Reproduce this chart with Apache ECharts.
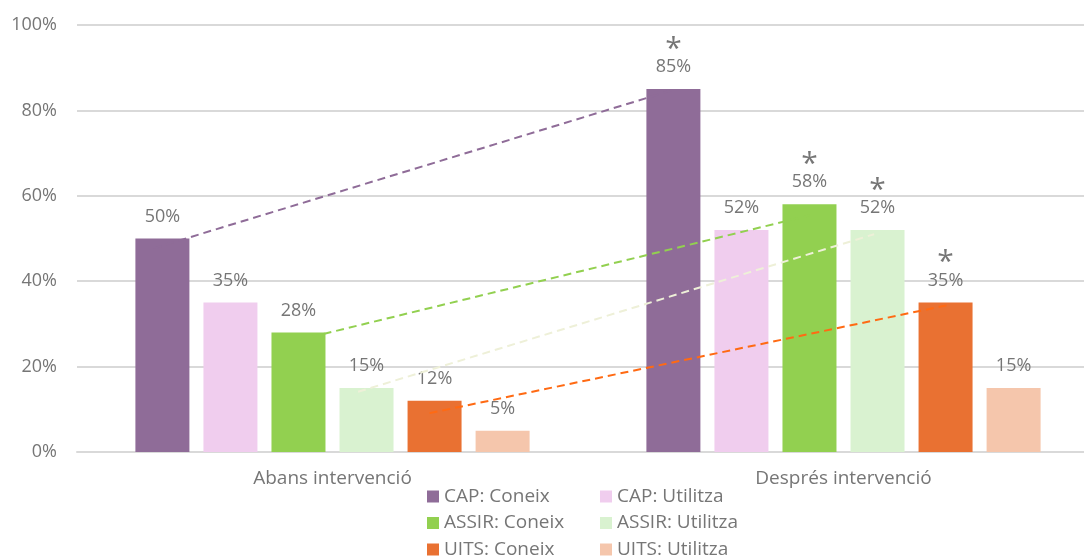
<!DOCTYPE html>
<html>
<head>
<meta charset="utf-8">
<script src="https://cdn.jsdelivr.net/npm/echarts@6/dist/echarts.min.js"></script>
<style>
  html, body { margin: 0; padding: 0; background: #fff; }
  #chart { width: 1084px; height: 558px; }
</style>
</head>
<body>
<div id="chart"></div>
<script>
// dades
var categories = ['Abans intervenció', 'Després intervenció'];
var seriesNames = ['CAP: Coneix', 'CAP: Utilitza', 'ASSIR: Coneix', 'ASSIR: Utilitza', 'UITS: Coneix', 'UITS: Utilitza'];
var capConeix = [50, 85];
var capUtilitza = [35, 52];
var assirConeix = [28, 58];
var assirUtilitza = [15, 52];
var uitsConeix = [12, 35];
var uitsUtilitza = [5, 15];
// asterisc (diferència significativa) per a cada sèrie i categoria
var significant = [
  [false, true],
  [false, false],
  [false, true],
  [false, true],
  [false, true],
  [false, false]
];
// línies de tendència discontínues: [posició x, valor]
var trendCap = [[0.15, 47.7], [1.167, 84.8]];
var trendAssir = [[0.433, 26.2], [1.433, 55.4]];
var trendAssirUt = [[0.55, 14.1], [1.56, 51.0]];
var trendUits = [[0.69, 9.1], [1.704, 34.4]];

var barColors = ['#8F6C98', '#F0CDEE', '#92D050', '#D9F2D0', '#E97132', '#F5C6AC'];
var values = [capConeix, capUtilitza, assirConeix, assirUtilitza, uitsConeix, uitsUtilitza];
var gray = '#767676';

var myChart = echarts.init(document.getElementById('chart'));

var barSeries = seriesNames.map(function (name, i) {
  return {
    name: name,
    type: 'bar',
    barWidth: 54,
    barGap: '26%',
    itemStyle: { color: barColors[i] },
    label: {
      show: true,
      position: 'top',
      distance: 12,
      formatter: function (p) {
        var txt = '{v|' + p.value + '%}';
        return significant[i][p.dataIndex] ? '{s|*}\n' + txt : txt;
      },
      rich: {
        v: { fontSize: 18, color: gray, fontFamily: 'Open Sans', lineHeight: 20 },
        s: { fontSize: 30, color: gray, fontFamily: 'Open Sans', lineHeight: 22, padding: [0, 0, -6, 0] }
      }
    },
    data: values[i]
  };
});

function trend(data, color) {
  return {
    type: 'line',
    xAxisIndex: 1,
    data: data,
    symbol: 'none',
    silent: true,
    z: 5,
    lineStyle: { color: color, width: 2, type: [8, 5] }
  };
}

function legendCol(names, left) {
  return {
    data: names,
    orient: 'vertical',
    left: left,
    top: 482,
    height: 120,
    itemWidth: 12,
    itemHeight: 12,
    itemGap: 7.5,
    icon: 'rect',
    textStyle: { fontSize: 19, color: gray, fontFamily: 'Open Sans' }
  };
}

var option = {
  animation: false,
  textStyle: { fontFamily: 'Open Sans' },
  grid: { left: 77, width: 1022, top: 25, bottom: 106, outerBoundsMode: 'none' },
  legend: [
    legendCol([seriesNames[0], seriesNames[2], seriesNames[4]], 422),
    legendCol([seriesNames[1], seriesNames[3], seriesNames[5]], 595)
  ],
  xAxis: [
    {
      type: 'category',
      data: categories,
      axisTick: { show: false },
      axisLine: { lineStyle: { color: '#D9D9D9', width: 2 } },
      axisLabel: { fontSize: 19, color: gray, margin: 17 }
    },
    { type: 'value', min: 0, max: 2, show: false }
  ],
  yAxis: {
    type: 'value',
    min: 0,
    max: 100,
    interval: 20,
    axisLine: { show: false },
    axisTick: { show: false },
    axisLabel: { formatter: '{value}%', fontSize: 18, color: gray, margin: 20 },
    splitLine: { lineStyle: { color: '#D9D9D9', width: 2 } }
  },
  series: barSeries.concat([
    trend(trendCap, '#8F6C98'),
    trend(trendAssir, '#92D050'),
    trend(trendAssirUt, '#EEF0D8'),
    trend(trendUits, '#FF6A13')
  ])
};

myChart.setOption(option);
</script>
</body>
</html>
